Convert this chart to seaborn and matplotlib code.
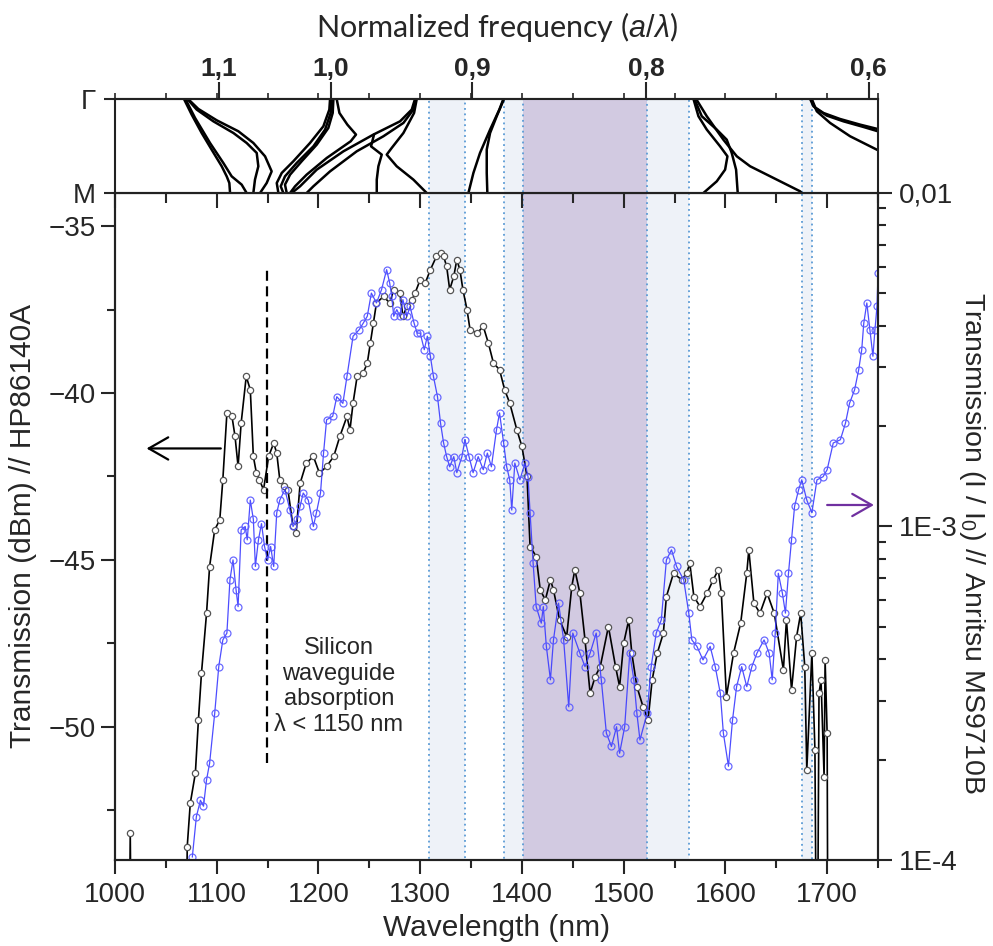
import matplotlib
matplotlib.use("Agg")
import matplotlib.pyplot as plt
import seaborn as sns
from matplotlib.ticker import (FixedLocator, FixedFormatter, MultipleLocator,
                               LogLocator, NullFormatter)

# ---------------- data ----------------
# HP86140A (black, dBm, left axis)
hp_wavelength = [1010, 1013, 1015, 1017, 1069, 1071, 1074, 1079, 1082, 1085, 1090, 1093,
                 1098, 1103, 1106, 1110, 1115, 1118, 1121, 1124, 1129, 1133, 1136, 1139,
                 1142, 1146, 1151, 1156, 1159, 1162, 1166, 1170, 1175, 1178, 1182, 1188,
                 1195, 1201, 1208, 1215, 1221, 1228, 1231, 1234, 1238, 1244, 1248, 1251,
                 1254, 1257, 1264, 1270, 1274, 1280, 1283, 1287, 1292, 1295, 1300, 1305,
                 1310, 1316, 1320, 1323, 1326, 1329, 1333, 1336, 1339, 1342, 1346, 1349,
                 1356, 1362, 1367, 1372, 1378, 1383, 1388, 1395, 1400, 1405, 1408, 1414,
                 1418, 1423, 1428, 1431, 1437, 1444, 1449, 1452, 1457, 1462, 1467, 1472,
                 1477, 1485, 1492, 1496, 1500, 1505, 1508, 1513, 1519, 1524, 1528, 1533,
                 1539, 1542, 1549, 1557, 1562, 1565, 1569, 1575, 1582, 1588, 1593, 1596,
                 1601, 1608, 1615, 1621, 1623, 1628, 1634, 1641, 1648, 1657, 1660, 1665,
                 1670, 1674, 1678, 1680, 1685, 1688, 1690, 1692, 1694, 1697, 1698, 1700,
                 1701]
hp_dbm = [-60, -60, -53.2, -60, -60, -53.6, -52.3, -51.4, -49.8, -48.4, -46.6, -45.2,
          -44.1, -43.8, -42.6, -40.6, -40.7, -41.3, -42.2, -40.9, -39.5, -39.9, -41.9, -42.4,
          -42.6, -42.9, -41.9, -41.5, -41.8, -42.6, -42.8, -42.9, -44.0, -44.2, -42.7, -42.1,
          -41.9, -42.4, -42.2, -41.9, -41.3, -40.7, -41.1, -40.3, -39.5, -39.4, -39.1, -38.5,
          -37.9, -37.3, -37.1, -37.3, -36.9, -37.0, -37.7, -37.4, -37.2, -37.0, -36.6, -36.7,
          -36.3, -35.9, -35.8, -35.9, -36.2, -36.9, -36.5, -36.0, -36.3, -36.9, -37.5, -38.1,
          -38.2, -38.0, -38.5, -39.1, -39.3, -39.9, -40.3, -41.1, -41.6, -42.5, -44.6, -44.9,
          -45.9, -46.2, -45.6, -45.9, -46.8, -47.3, -45.8, -45.3, -46.0, -47.4, -49.0, -48.5,
          -48.2, -47.0, -48.2, -48.8, -47.5, -46.8, -47.8, -48.8, -49.4, -49.8, -48.6, -47.8,
          -47.2, -46.1, -45.4, -45.6, -45.4, -45.1, -46.1, -46.4, -46.0, -45.6, -45.3, -46.0,
          -49.1, -47.8, -46.9, -45.4, -44.7, -46.3, -46.6, -46.0, -46.6, -48.3, -46.8, -48.9,
          -47.3, -46.6, -48.2, -51.3, -47.8, -50.7, -60, -49.0, -48.6, -51.5, -48.0, -50.2,
          -60]

# Anritsu MS9710B (blue, I/I0, right log axis)
anr_wavelength = [1076, 1080, 1084, 1087, 1090, 1093, 1098, 1102, 1106, 1110, 1113, 1116,
                  1119, 1121, 1124, 1128, 1130, 1133, 1136, 1138, 1141, 1144, 1147, 1150,
                  1153, 1156, 1159, 1162, 1167, 1172, 1175, 1179, 1182, 1185, 1190, 1195,
                  1198, 1202, 1205, 1208, 1214, 1218, 1224, 1228, 1234, 1240, 1244, 1248,
                  1252, 1257, 1262, 1267, 1270, 1272, 1274, 1277, 1280, 1283, 1287, 1290,
                  1294, 1297, 1300, 1304, 1307, 1310, 1313, 1317, 1320, 1323, 1326, 1329,
                  1333, 1336, 1341, 1344, 1348, 1352, 1357, 1362, 1366, 1370, 1375, 1378,
                  1382, 1385, 1388, 1390, 1393, 1398, 1403, 1406, 1408, 1411, 1414, 1419,
                  1421, 1424, 1428, 1431, 1436, 1441, 1446, 1450, 1457, 1462, 1467, 1473,
                  1478, 1483, 1488, 1493, 1496, 1501, 1506, 1510, 1513, 1516, 1523, 1527,
                  1532, 1537, 1542, 1547, 1552, 1559, 1564, 1567, 1572, 1578, 1585, 1590,
                  1595, 1598, 1603, 1607, 1611, 1616, 1621, 1626, 1631, 1638, 1643, 1646,
                  1649, 1652, 1656, 1659, 1662, 1665, 1668, 1672, 1675, 1680, 1685, 1690,
                  1696, 1700, 1706, 1713, 1718, 1722, 1727, 1731, 1734, 1736, 1739, 1742,
                  1745, 1747, 1749, 1750]
anr_ratio = [1.02e-4, 1.35e-4, 1.51e-4, 1.45e-4, 1.74e-4, 1.95e-4, 2.75e-4, 3.80e-4, 4.57e-4, 4.79e-4, 6.92e-4, 7.94e-4,
             6.46e-4, 5.75e-4, 9.77e-4, 1.00e-3, 9.12e-4, 1.20e-3, 1.05e-3, 7.59e-4, 9.12e-4, 1.02e-3, 8.71e-4, 7.94e-4,
             8.71e-4, 7.59e-4, 1.10e-3, 1.20e-3, 1.29e-3, 1.12e-3, 1.00e-3, 1.05e-3, 1.15e-3, 1.26e-3, 1.20e-3, 1.00e-3,
             1.10e-3, 1.26e-3, 1.66e-3, 2.09e-3, 2.14e-3, 2.45e-3, 2.34e-3, 2.82e-3, 3.72e-3, 3.89e-3, 4.07e-3, 4.27e-3,
             5.01e-3, 4.68e-3, 5.13e-3, 5.89e-3, 5.37e-3, 4.90e-3, 4.27e-3, 4.47e-3, 4.27e-3, 4.79e-3, 4.27e-3, 4.57e-3,
             4.07e-3, 3.80e-3, 3.80e-3, 3.39e-3, 3.72e-3, 3.24e-3, 2.82e-3, 2.45e-3, 2.04e-3, 1.78e-3, 1.62e-3, 1.51e-3,
             1.62e-3, 1.45e-3, 1.62e-3, 1.82e-3, 1.62e-3, 1.45e-3, 1.62e-3, 1.48e-3, 1.66e-3, 1.51e-3, 1.95e-3, 2.19e-3,
             1.78e-3, 1.51e-3, 1.38e-3, 1.12e-3, 1.55e-3, 1.38e-3, 1.55e-3, 1.41e-3, 1.10e-3, 7.76e-4, 5.75e-4, 5.13e-4,
             5.75e-4, 4.37e-4, 3.47e-4, 4.57e-4, 5.89e-4, 4.57e-4, 2.88e-4, 4.79e-4, 4.17e-4, 3.80e-4, 4.17e-4, 4.79e-4,
             3.47e-4, 2.40e-4, 2.19e-4, 2.51e-4, 2.09e-4, 2.51e-4, 4.17e-4, 3.47e-4, 2.75e-4, 2.29e-4, 2.75e-4, 3.80e-4,
             4.79e-4, 5.25e-4, 7.94e-4, 8.51e-4, 7.59e-4, 6.92e-4, 5.50e-4, 4.57e-4, 4.37e-4, 3.98e-4, 4.37e-4, 3.80e-4,
             3.16e-4, 2.40e-4, 1.91e-4, 2.63e-4, 3.31e-4, 3.80e-4, 3.31e-4, 3.80e-4, 4.17e-4, 4.57e-4, 4.17e-4, 3.47e-4,
             4.79e-4, 7.24e-4, 6.31e-4, 5.50e-4, 7.24e-4, 9.12e-4, 1.15e-3, 1.29e-3, 1.38e-3, 1.20e-3, 1.10e-3, 1.38e-3,
             1.41e-3, 1.48e-3, 1.78e-3, 1.82e-3, 2.04e-3, 2.34e-3, 2.57e-3, 2.95e-3, 3.39e-3, 4.07e-3, 4.68e-3, 3.89e-3,
             3.24e-3, 3.89e-3, 4.57e-3, 5.75e-3]

# photonic band structure (wavelength, k from Gamma=0 to M=1)
band_a1_wl = [1067.8, 1075.4, 1085.2, 1095.0, 1104.9, 1109.8, 1112.4, 1113.1]
band_a1_k = [0, 0.167, 0.362, 0.539, 0.716, 0.823, 0.894, 1.0]
band_a2_wl = [1069.2, 1078.7, 1093.4, 1106.5, 1114.7, 1124.5, 1129.4]
band_a2_k = [0, 0.202, 0.468, 0.681, 0.823, 0.911, 1.0]
band_a3_wl = [1071.1, 1080.3, 1096.7, 1116.4, 1129.4, 1139.3, 1140.9, 1137.6, 1136.0]
band_a3_k = [0, 0.113, 0.238, 0.362, 0.468, 0.574, 0.716, 0.858, 1.0]
band_a4_wl = [1071.8, 1081.9, 1100.0, 1121.3, 1136.0, 1147.5, 1154.0, 1149.1, 1142.6]
band_a4_k = [0, 0.106, 0.227, 0.344, 0.468, 0.61, 0.77, 0.894, 1.0]
band_b1_wl = [1211.4, 1210.7, 1204.8, 1191.7, 1175.3, 1163.9, 1159.0, 1160.6]
band_b1_k = [0, 0.113, 0.291, 0.468, 0.663, 0.787, 0.894, 1.0]
band_b2_wl = [1213.0, 1212.0, 1206.5, 1195.0, 1178.6, 1167.1, 1162.9, 1165.5]
band_b2_k = [0, 0.149, 0.326, 0.504, 0.681, 0.823, 0.929, 1.0]
band_b3_wl = [1214.7, 1214.0, 1209.7, 1198.3, 1183.5, 1172.1, 1167.1, 1168.8]
band_b3_k = [0, 0.149, 0.309, 0.486, 0.663, 0.805, 0.911, 1.0]
band_b4_wl = [1217.9, 1220.6, 1228.4, 1236.9, 1231.7, 1208.1, 1188.4, 1177.0, 1172.1]
band_b4_k = [0, 0.149, 0.273, 0.379, 0.45, 0.628, 0.805, 0.929, 1.0]
band_c1_wl = [1294.9, 1291.7, 1280.2, 1254.0, 1224.5, 1198.3, 1181.9, 1173.7]
band_c1_k = [0, 0.113, 0.238, 0.379, 0.557, 0.752, 0.929, 1.0]
band_c2_wl = [1295.9, 1293.3, 1283.5, 1263.8, 1237.6, 1211.4, 1195.0, 1188.4]
band_c2_k = [0, 0.113, 0.255, 0.397, 0.557, 0.77, 0.929, 1.0]
band_c3_wl = [1296.6, 1294.0, 1283.5, 1272.0, 1267.1, 1276.9, 1293.3, 1306.4]
band_c3_k = [0, 0.149, 0.362, 0.521, 0.592, 0.716, 0.858, 1.0]
band_c4_wl = [1254.6, 1251.7, 1262.2, 1258.9, 1257.3, 1257.3]
band_c4_k = [0.379, 0.504, 0.592, 0.716, 0.858, 1.0]
band_d1_wl = [1381.8, 1377.8, 1368.7, 1358.8, 1352.3, 1347.4]
band_d1_k = [0, 0.113, 0.326, 0.574, 0.787, 1.0]
band_d2_wl = [1382.4, 1375.2, 1368.7, 1365.4, 1365.4, 1366.0]
band_d2_k = [0, 0.184, 0.362, 0.539, 0.787, 1.0]
band_e1_wl = [1568.6, 1573.5, 1581.7, 1594.8, 1602.0, 1599.7, 1591.5, 1578.4]
band_e1_k = [0, 0.184, 0.326, 0.504, 0.61, 0.752, 0.876, 1.0]
band_e2_wl = [1569.5, 1576.8, 1591.5, 1601.3, 1606.2, 1610.5, 1612.1]
band_e2_k = [0, 0.184, 0.326, 0.433, 0.574, 0.752, 1.0]
band_e3_wl = [1571.2, 1581.7, 1598.0, 1611.2, 1624.3, 1647.2, 1673.4, 1675.0]
band_e3_k = [0, 0.184, 0.433, 0.61, 0.716, 0.84, 0.982, 1.0]
band_f1_wl = [1683.3, 1686.5, 1696.4, 1712.7, 1732.4, 1752.1]
band_f1_k = [0, 0.078, 0.149, 0.213, 0.273, 0.326]
band_f2_wl = [1683.9, 1688.2, 1699.6, 1716.0, 1735.7, 1752.1]
band_f2_k = [0, 0.096, 0.177, 0.238, 0.298, 0.351]
band_f3_wl = [1684.9, 1689.8, 1702.9, 1722.6, 1752.1]
band_f3_k = [0, 0.131, 0.255, 0.397, 0.557]

# shaded regions (nm)
light_regions = [(1309, 1344), (1382, 1564.5), (1675.5, 1685.5)]
gap_region = (1401, 1522.6)

# normalized frequency tick positions (nm) and labels
freq_positions = [1102, 1212, 1351, 1522, 1741]
freq_labels = ["1,1", "1,0", "0,9", "0,8", "0,6"]

x_ticks = [1000, 1100, 1200, 1300, 1400, 1500, 1600, 1700]
left_ticks = [-50, -45, -40, -35]
right_ticks = [1e-4, 1e-3, 1e-2]
right_labels = ["1E-4", "1E-3", "0,01"]

# ---------------- style ----------------
sns.set_theme(style="ticks")
plt.rcParams["font.family"] = ["Liberation Sans", "DejaVu Sans"]
plt.rcParams["mathtext.fontset"] = "custom"
plt.rcParams["mathtext.it"] = "Liberation Sans:italic"
plt.rcParams["mathtext.rm"] = "Liberation Sans"
plt.rcParams["axes.linewidth"] = 1.5
plt.rcParams["axes.edgecolor"] = "#222222"

fig = plt.figure(figsize=(9.93, 9.46), dpi=100)
ax = fig.add_axes([0.1158, 0.0909, 0.7684, 0.7051])
ax_top = fig.add_axes([0.1158, 0.7960, 0.7684, 0.0994])

LIGHT = "#eef2f8"
PURPLE = "#d2cae1"
DOT = "#5b9bd5"

for a in (ax, ax_top):
    for lo, hi in light_regions:
        a.axvspan(lo, hi, facecolor=LIGHT, edgecolor=DOT, linestyle=(0, (1, 2)),
                  linewidth=1.3, zorder=0)
    a.axvspan(gap_region[0], gap_region[1], facecolor=PURPLE, edgecolor=DOT,
              linestyle=(0, (1, 2)), linewidth=1.3, zorder=0.5)

# ---------------- top panel: bands ----------------
bands = [(band_a1_wl, band_a1_k), (band_a2_wl, band_a2_k), (band_a3_wl, band_a3_k),
         (band_a4_wl, band_a4_k), (band_b1_wl, band_b1_k), (band_b2_wl, band_b2_k),
         (band_b3_wl, band_b3_k), (band_b4_wl, band_b4_k), (band_c1_wl, band_c1_k),
         (band_c2_wl, band_c2_k), (band_c3_wl, band_c3_k), (band_c4_wl, band_c4_k),
         (band_d1_wl, band_d1_k), (band_d2_wl, band_d2_k), (band_e1_wl, band_e1_k),
         (band_e2_wl, band_e2_k), (band_e3_wl, band_e3_k), (band_f1_wl, band_f1_k),
         (band_f2_wl, band_f2_k), (band_f3_wl, band_f3_k)]
for wl, k in bands:
    sns.lineplot(x=wl, y=k, ax=ax_top, color="black", lw=1.8, sort=False,
                 estimator=None, legend=False)

ax_top.set_xlim(1000, 1750)
ax_top.set_ylim(1, 0)
ax_top.set_yticks([0, 1])
ax_top.set_yticklabels(["Γ", "M"], fontsize=20)
ax_top.tick_params(axis="y", which="both", left=True, right=False, direction="out",
                   length=8, width=1.5, pad=6)
ax_top.set_xticks(x_ticks)
ax_top.xaxis.set_minor_locator(MultipleLocator(50))
ax_top.tick_params(axis="x", which="both", bottom=True, top=False, labelbottom=False,
                   direction="out", width=1.5)
ax_top.tick_params(axis="x", which="major", length=11)
ax_top.tick_params(axis="x", which="minor", length=7)
ax_top.set_xlabel("")
ax_top.set_ylabel("")

sec = ax_top.secondary_xaxis("top")
sec.set_xticks(freq_positions)
sec.set_xticklabels(freq_labels, fontsize=19, fontweight="bold",
                    family=["Liberation Sans Narrow", "Liberation Sans"])
sec.xaxis.set_minor_locator(MultipleLocator(50))
sec.tick_params(axis="x", which="major", direction="out", length=12, width=1.5, pad=1)
sec.tick_params(axis="x", which="minor", direction="out", length=4, width=1.2)
sec.set_xlabel(r"Normalized frequency ($a/\lambda$)", fontsize=22,
               family=["Lato", "Liberation Sans"], labelpad=14)

# ---------------- main panel ----------------
sns.lineplot(x=hp_wavelength, y=hp_dbm, ax=ax, color="black", lw=1.2, sort=False,
             estimator=None, legend=False, marker="o", markersize=4.5,
             markerfacecolor="white", markeredgecolor="#555555", markeredgewidth=0.9,
             zorder=3)

ax.set_xlim(1000, 1750)
ax.set_ylim(-54, -34)
ax.set_xticks(x_ticks)
ax.xaxis.set_minor_locator(MultipleLocator(50))
ax.set_yticks(left_ticks)
ax.yaxis.set_minor_locator(MultipleLocator(2.5))
ax.tick_params(axis="x", which="both", top=False, bottom=True, direction="out", width=1.5,
               labelsize=20, pad=6)
ax.tick_params(axis="x", which="major", length=10)
ax.tick_params(axis="x", which="minor", length=6)
ax.tick_params(axis="y", which="both", left=True, right=False, direction="out", width=1.5,
               labelsize=20, pad=4)
ax.tick_params(axis="y", which="major", length=10)
ax.tick_params(axis="y", which="minor", length=6)
ax.set_xlabel("Wavelength (nm)", fontsize=21.5, labelpad=4)
ax.set_ylabel("Transmission (dBm) // HP86140A", fontsize=21.5, labelpad=8)

# silicon absorption edge marker
ax.vlines(1149, -51.1, -36.2, colors="black", linestyles=(0, (4.5, 2.5)), lw=1.6, zorder=4)
ax.text(1220, -48.8, "Silicon\nwaveguide\nabsorption\nλ < 1150 nm", ha="center",
        va="center", fontsize=17, linespacing=1.2, zorder=5)
ax.annotate("", xy=(1031, -41.66), xytext=(1104, -41.66),
            arrowprops=dict(arrowstyle="->,head_length=0.7,head_width=0.4", lw=1.6,
                            color="black", mutation_scale=20, shrinkA=0, shrinkB=0))

# right axis: Anritsu
ax2 = ax.twinx()
sns.lineplot(x=anr_wavelength, y=anr_ratio, ax=ax2, color="#3a3aff", lw=0.9, sort=False,
             estimator=None, legend=False, marker="o", markersize=5,
             markerfacecolor="none", markeredgecolor="#5a5aff", markeredgewidth=0.9,
             alpha=0.9, zorder=2)
ax2.set_yscale("log")
ax2.set_ylim(1e-4, 1e-2)
ax2.set_xlim(1000, 1750)
ax2.yaxis.set_major_locator(FixedLocator(right_ticks))
ax2.yaxis.set_major_formatter(FixedFormatter(right_labels))
ax2.yaxis.set_minor_locator(LogLocator(base=10, subs=[2, 3, 4, 5, 6, 7, 8, 9]))
ax2.yaxis.set_minor_formatter(NullFormatter())
ax2.tick_params(axis="y", which="both", right=True, left=False, direction="out", width=1.5,
                labelsize=20, pad=5)
ax2.tick_params(axis="y", which="major", length=10)
ax2.tick_params(axis="y", which="minor", length=6)
ax2.set_xlabel("")
ax2.set_ylabel("Transmission (I / I$_0$) // Anritsu MS9710B", fontsize=20.5,
               rotation=270, labelpad=20)
ax2.yaxis.set_label_coords(1.143, 0.475)
ax2.annotate("", xy=(1746, 1.16e-3), xytext=(1700, 1.16e-3),
             arrowprops=dict(arrowstyle="->,head_length=0.7,head_width=0.4", lw=1.6,
                             color="#7030a0", mutation_scale=20, shrinkA=0, shrinkB=0))

for a in (ax, ax_top, ax2):
    for s in a.spines.values():
        s.set_linewidth(1.5)
        s.set_color("#222222")

fig.savefig("out.png", dpi=100)
